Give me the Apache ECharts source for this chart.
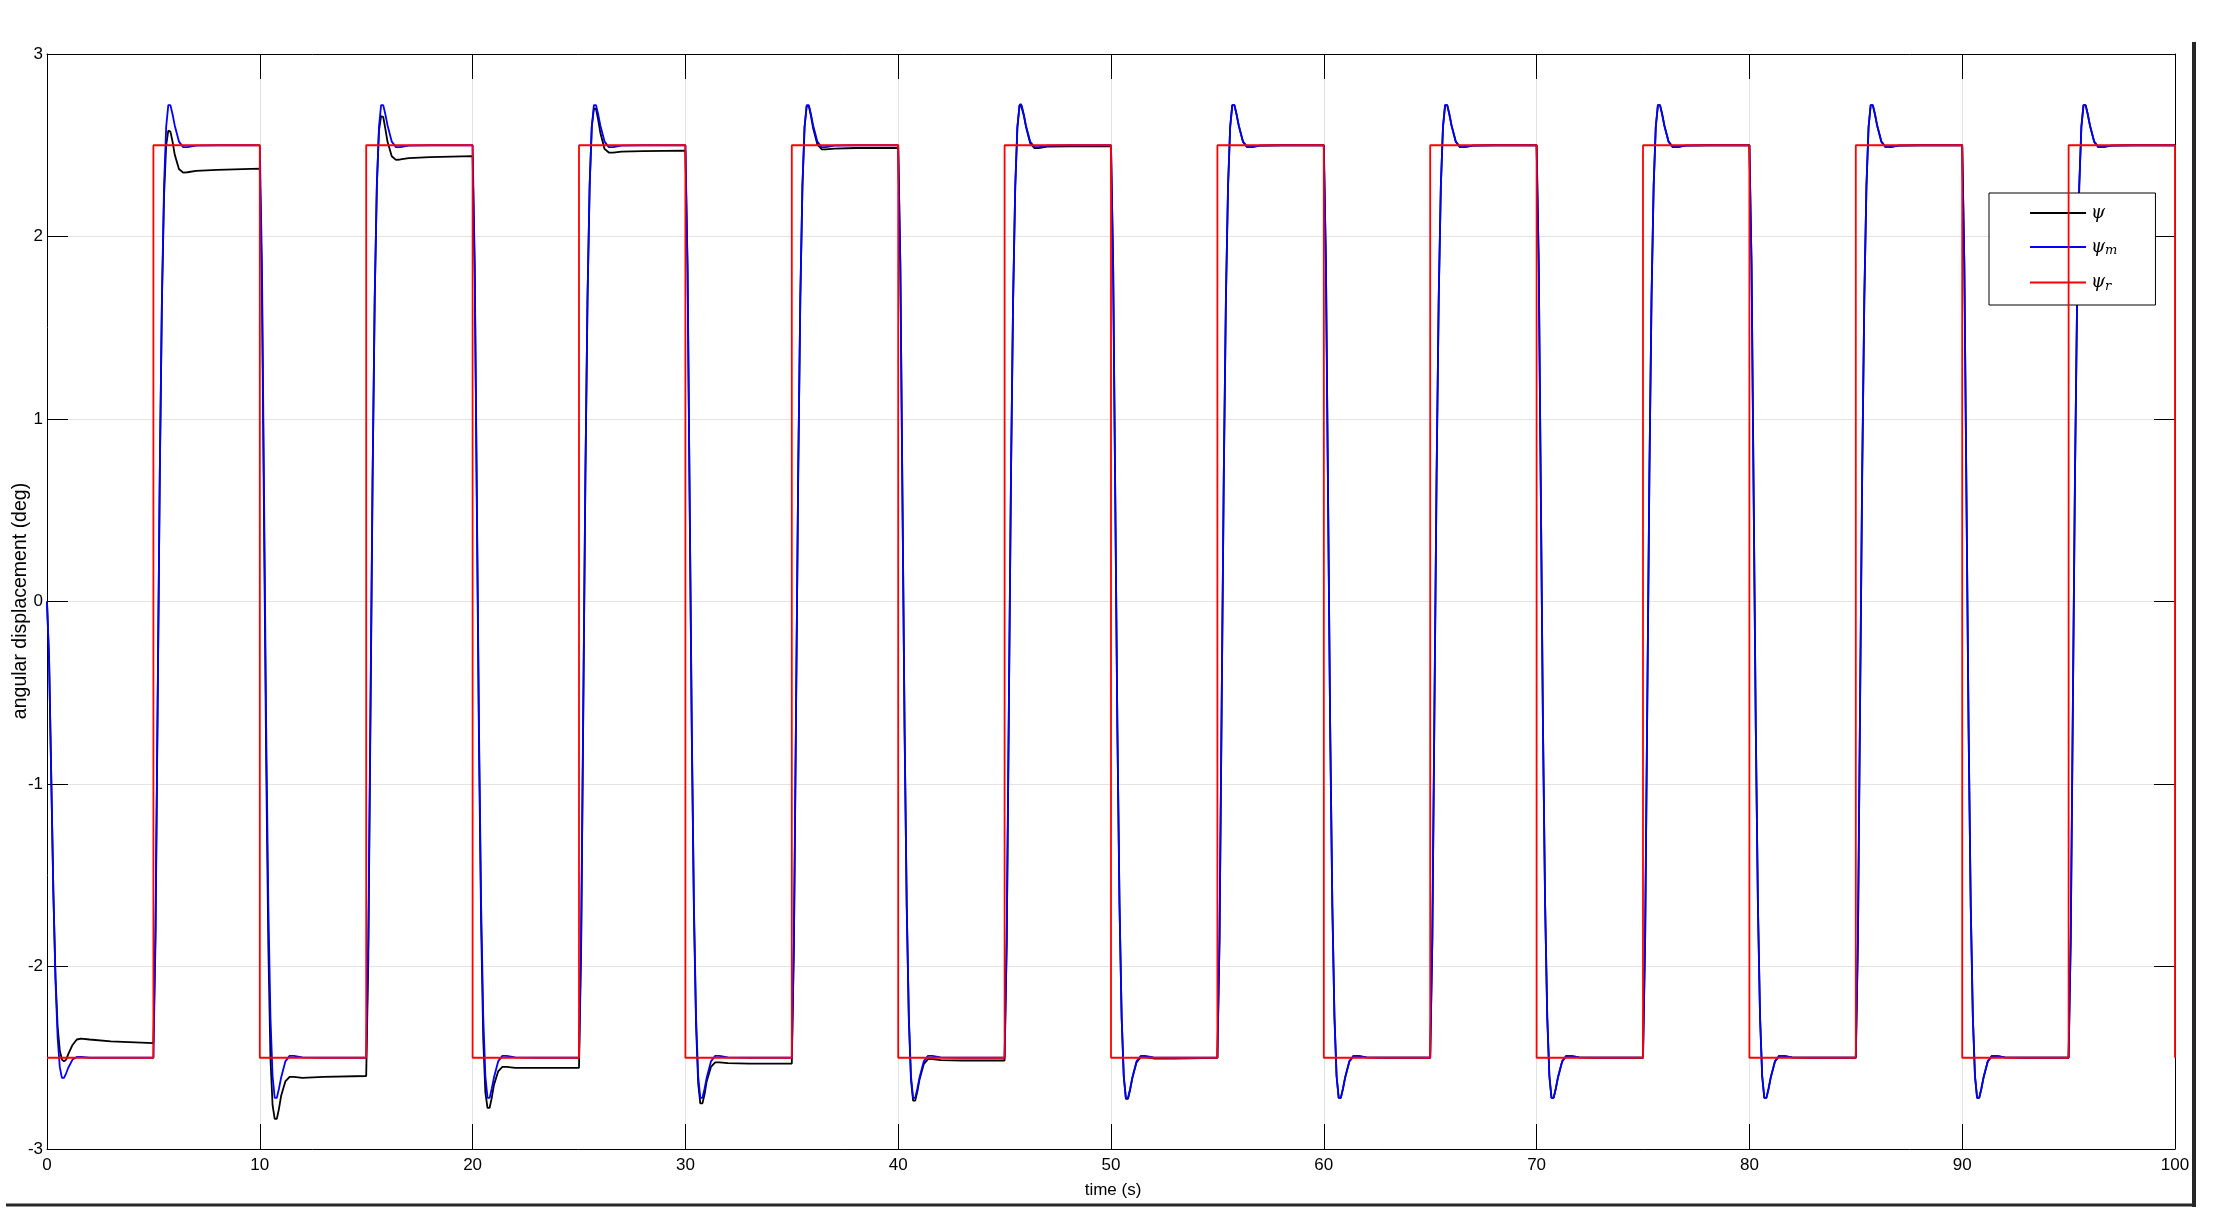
<!DOCTYPE html>
<html>
<head>
<meta charset="utf-8">
<script src="https://cdn.jsdelivr.net/npm/echarts@6/dist/echarts.min.js"></script>
<style>
html,body{margin:0;padding:0;background:#fff;}
#chart{width:2229px;height:1231px;}
</style>
</head>
<body>
<div id="chart"></div>
<script>
// ---- time offsets (s) after each switching instant at which values were read ----
const tau = [0, 0.1, 0.2, 0.3, 0.4, 0.5, 0.6, 0.7, 0.75, 0.8, 0.9, 1.0, 1.2, 1.4, 1.6, 2.0, 3.0];

// ---- reference model output psi_m (blue) ----
const blueFirst = [0, -0.325, -0.96, -1.60, -2.08, -2.39, -2.55, -2.61, -2.615, -2.61, -2.585, -2.555, -2.51, -2.496, -2.495, -2.5, -2.5];
const blueRise  = [-2.5, -1.85, -0.575, 0.695, 1.66, 2.275, 2.60, 2.72, 2.73, 2.72, 2.67, 2.61, 2.52, 2.49, 2.49, 2.498, 2.5];
const blueFall  = [2.5, 1.85, 0.575, -0.695, -1.66, -2.275, -2.60, -2.72, -2.73, -2.72, -2.67, -2.61, -2.52, -2.49, -2.49, -2.498, -2.5];

// ---- plant output psi (black), per switching instant (t = 0, 5, 10, ... 50) ----
const black00 = [0, -0.33, -0.97, -1.60, -2.06, -2.33, -2.46, -2.51, -2.518, -2.52, -2.51, -2.48, -2.43, -2.40, -2.395, -2.40, -2.41];
const black05 = [-2.42, -1.78, -0.53, 0.70, 1.64, 2.22, 2.50, 2.58, 2.585, 2.575, 2.52, 2.45, 2.37, 2.35, 2.352, 2.36, 2.365];
const black10 = [2.372, 1.72, 0.42, -0.88, -1.88, -2.50, -2.76, -2.835, -2.84, -2.835, -2.78, -2.71, -2.63, -2.605, -2.605, -2.61, -2.605];
const black15 = [-2.60, -1.95, -0.65, 0.66, 1.66, 2.28, 2.58, 2.66, 2.665, 2.655, 2.59, 2.52, 2.44, 2.42, 2.422, 2.43, 2.435];
const black20 = [2.44, 1.79, 0.50, -0.78, -1.76, -2.40, -2.69, -2.775, -2.78, -2.775, -2.72, -2.65, -2.575, -2.55, -2.55, -2.555, -2.555];
const black25 = [-2.555, -1.90, -0.62, 0.68, 1.66, 2.28, 2.60, 2.70, 2.705, 2.70, 2.64, 2.57, 2.48, 2.46, 2.46, 2.465, 2.468];
const black30 = [2.47, 1.82, 0.54, -0.73, -1.70, -2.32, -2.64, -2.75, -2.755, -2.75, -2.70, -2.63, -2.55, -2.525, -2.525, -2.53, -2.532];
const black35 = [-2.532, -1.88, -0.60, 0.69, 1.66, 2.28, 2.60, 2.715, 2.725, 2.715, 2.66, 2.595, 2.505, 2.478, 2.477, 2.482, 2.485];
const black40 = [2.486, 1.84, 0.56, -0.71, -1.67, -2.29, -2.62, -2.735, -2.742, -2.735, -2.685, -2.62, -2.535, -2.508, -2.508, -2.513, -2.515];
const black45 = [-2.515, -1.865, -0.59, 0.69, 1.655, 2.27, 2.595, 2.715, 2.727, 2.717, 2.665, 2.603, 2.512, 2.484, 2.484, 2.492, 2.494];
const black50 = [2.495, 1.845, 0.57, -0.70, -1.665, -2.28, -2.605, -2.725, -2.735, -2.725, -2.675, -2.613, -2.525, -2.497, -2.497, -2.504, -2.505];

// ---- reference command psi_r (red): level held on each 5 s interval ----
const switchTimes = [0, 5, 10, 15, 20, 25, 30, 35, 40, 45, 50, 55, 60, 65, 70, 75, 80, 85, 90, 95, 100];
const refLevels = [-2.5, 2.5, -2.5, 2.5, -2.5, 2.5, -2.5, 2.5, -2.5, 2.5, -2.5, 2.5, -2.5, 2.5, -2.5, 2.5, -2.5, 2.5, -2.5, 2.5];
const refEnd = -2.5;

// ---- axis ticks ----
const xTicks = {min: 0, max: 100, interval: 10};
const yTicks = {min: -3, max: 3, interval: 1};

// ---- build series tables ----
const blackSegs = [black00, black05, black10, black15, black20, black25, black30, black35, black40, black45, black50];
function blueSeg(k) { return k === 0 ? blueFirst : (k % 2 === 1 ? blueRise : blueFall); }
const blueData = [], blackData = [], redData = [];
for (let k = 0; k < switchTimes.length - 1; k++) {
  const T = switchTimes[k];
  const b = blueSeg(k);
  const k2 = k < blackSegs.length ? blackSegs[k] : b;
  for (let i = 0; i < tau.length; i++) {
    blueData.push([T + tau[i], b[i]]);
    blackData.push([T + tau[i], k2[i]]);
  }
  redData.push([T, refLevels[k]], [switchTimes[k + 1], refLevels[k]]);
}
blueData.push([100, blueRise[blueRise.length - 1]]);
blackData.push([100, blueRise[blueRise.length - 1]]);
redData.push([100, refEnd]);

const FONT = 'Liberation Sans, Arial, sans-serif';
const chart = echarts.init(document.getElementById('chart'), null, {renderer: 'canvas'});
const tickStyle = {color: '#000', width: 1};
chart.setOption({
  animation: false,
  backgroundColor: '#fff',
  grid: {left: 47, top: 54, width: 2128, height: 1095, containLabel: false},
  xAxis: [
    {type: 'value', position: 'bottom', min: xTicks.min, max: xTicks.max, interval: xTicks.interval,
     axisLine: {show: true, onZero: false, lineStyle: {color: '#000', width: 1}},
     axisTick: {show: true, inside: true, length: 25, lineStyle: tickStyle},
     axisLabel: {show: true, color: '#000', fontSize: 17, fontFamily: FONT, margin: 8},
     splitLine: {show: true, lineStyle: {color: '#e3e3e3', width: 1}}},
    {type: 'value', position: 'top', min: xTicks.min, max: xTicks.max, interval: xTicks.interval,
     axisLine: {show: true, onZero: false, lineStyle: {color: '#000', width: 1}},
     axisTick: {show: true, inside: true, length: 25, lineStyle: tickStyle},
     axisLabel: {show: false}, splitLine: {show: false}}
  ],
  yAxis: [
    {type: 'value', position: 'left', min: yTicks.min, max: yTicks.max, interval: yTicks.interval,
     axisLine: {show: true, onZero: false, lineStyle: {color: '#000', width: 1}},
     axisTick: {show: true, inside: true, length: 21, lineStyle: tickStyle},
     axisLabel: {show: true, color: '#000', fontSize: 17, fontFamily: FONT, margin: 4},
     splitLine: {show: true, lineStyle: {color: '#e3e3e3', width: 1}}},
    {type: 'value', position: 'right', min: yTicks.min, max: yTicks.max, interval: yTicks.interval,
     axisLine: {show: true, onZero: false, lineStyle: {color: '#000', width: 1}},
     axisTick: {show: true, inside: true, length: 21, lineStyle: tickStyle},
     axisLabel: {show: false}, splitLine: {show: false}}
  ],
  legend: {
    orient: 'vertical', left: 1989, top: 193,
    padding: [11, 38, 12, 41], itemGap: 16, itemWidth: 56, itemHeight: 2,
    icon: 'rect',
    backgroundColor: '#fff', borderColor: '#000', borderWidth: 1, borderRadius: 0,
    data: ['ψ', 'ψm', 'ψr'],
    formatter: function (n) {
      if (n === 'ψ') return '{g|ψ}';
      return '{g|ψ}{s|' + n.slice(1) + '}';
    },
    textStyle: {
      color: '#000',
      rich: {
        g: {fontFamily: 'DejaVu Serif', fontStyle: 'italic', fontSize: 18, color: '#000'},
        s: {fontFamily: 'DejaVu Serif', fontStyle: 'italic', fontSize: 13, color: '#000', padding: [8, 0, 0, 0]}
      }
    }
  },
  series: [
    {name: 'ψ', type: 'line', data: blackData, symbol: 'none', showSymbol: false,
     lineStyle: {color: '#000000', width: 1.8}, itemStyle: {color: '#000000'}, z: 2},
    {name: 'ψm', type: 'line', data: blueData, symbol: 'none', showSymbol: false,
     lineStyle: {color: '#0000ff', width: 1.8}, itemStyle: {color: '#0000ff'}, z: 3},
    {name: 'ψr', type: 'line', data: redData, symbol: 'none', showSymbol: false,
     lineStyle: {color: '#ff0000', width: 1.8}, itemStyle: {color: '#ff0000'}, z: 4}
  ],
  graphic: [
    {type: 'text', x: 21, y: 601, rotation: Math.PI / 2,
     style: {text: 'angular displacement (deg)', fontSize: 19.5, fontFamily: FONT, fill: '#000',
             textAlign: 'center', textVerticalAlign: 'middle'}},
    {type: 'text', x: 1113, y: 1190,
     style: {text: 'time (s)', fontSize: 17, fontFamily: FONT, fill: '#000',
             textAlign: 'center', textVerticalAlign: 'middle'}},
    {type: 'line', shape: {x1: 2194, y1: 42, x2: 2194, y2: 1207}, style: {stroke: '#262626', lineWidth: 4}},
    {type: 'line', shape: {x1: 6, y1: 1205, x2: 2196, y2: 1205}, style: {stroke: '#262626', lineWidth: 3}}
  ]
});
</script>
</body>
</html>
